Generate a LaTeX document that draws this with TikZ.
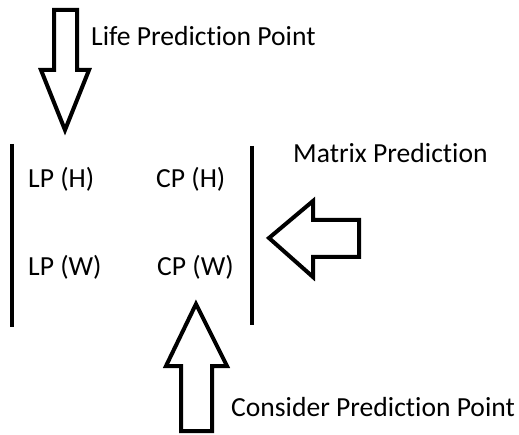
\documentclass[tikz,border=0pt]{standalone}
\usepackage{fontspec}
\setmainfont[Ligatures=NoCommon]{Carlito}
\begin{document}
\begin{tikzpicture}[x=1pt,y=-1pt,
  outl/.style={draw=black,line width=4pt,line join=miter},
  bar/.style={draw=black,line width=4pt},
  lbl/.style={anchor=base west,inner sep=0pt,font=\fontsize{27.6}{32}\selectfont}]
\useasboundingbox (0,0) rectangle (519,435);
% down arrow
\draw[outl] (54,10) -- (77,10) -- (77,70) -- (89,70) -- (65,130) -- (41,70) -- (54,70) -- cycle;
\node[lbl] (life) at (91,46) {Life Prediction Point};
% bars
\coordinate (l1) at (12,144); \coordinate (l2) at (12,327);
\coordinate (r1) at (252,146); \coordinate (r2) at (252,325);
\draw[bar] (l1) -- (l2);
\draw[bar] (r1) -- (r2);
% matrix entries
\node[lbl] (lph) at (28,188) {LP (H)};
\node[lbl] (cph) at (156,188) {CP (H)};
\node[lbl] (lpw) at (28,276) {LP (W)};
\node[lbl] (cpw) at (157,276) {CP (W)};
% matrix prediction
\node[lbl] (mat) at (293,163) {Matrix Prediction};
\draw[outl] (269,238) -- (313,201) -- (313,220) -- (359,220) -- (359,257) -- (313,257) -- (313,277) -- cycle;
% up arrow
\draw[outl] (196,304) -- (227,366) -- (212,366) -- (212,431) -- (181,431) -- (181,366) -- (166,366) -- cycle;
\node[lbl] (cons) at (231,416) {Consider Prediction Point};
\end{tikzpicture}
\end{document}
